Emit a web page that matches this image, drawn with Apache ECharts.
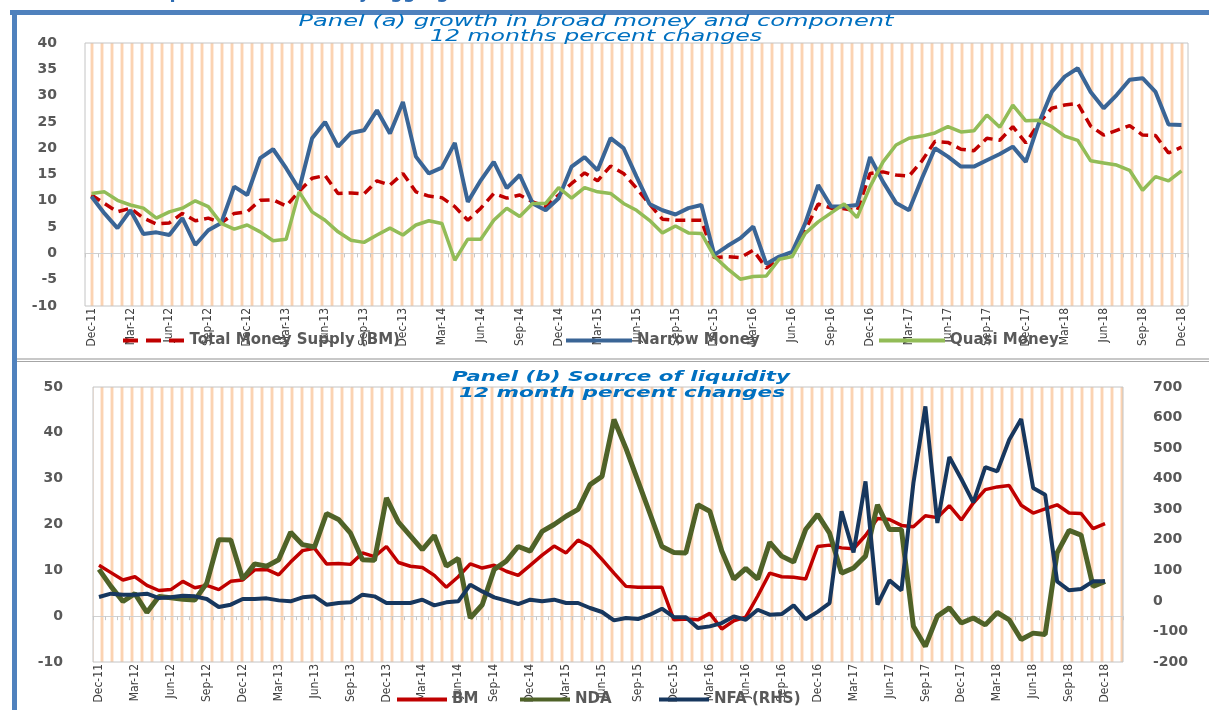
<!DOCTYPE html>
<html><head><meta charset="utf-8">
<script src="https://cdn.jsdelivr.net/npm/echarts/dist/echarts.min.js"></script>
<style>html,body{margin:0;padding:0;background:#fff}#c{width:1209px;height:710px}</style>
</head><body><div id="c"></div>
<script>
const months = ['Dec-11',
'Jan-12','Feb-12','Mar-12','Apr-12','May-12','Jun-12','Jul-12','Aug-12','Sep-12','Oct-12','Nov-12','Dec-12',
'Jan-13','Feb-13','Mar-13','Apr-13','May-13','Jun-13','Jul-13','Aug-13','Sep-13','Oct-13','Nov-13','Dec-13',
'Jan-14','Feb-14','Mar-14','Apr-14','May-14','Jun-14','Jul-14','Aug-14','Sep-14','Oct-14','Nov-14','Dec-14',
'Jan-15','Feb-15','Mar-15','Apr-15','May-15','Jun-15','Jul-15','Aug-15','Sep-15','Oct-15','Nov-15','Dec-15',
'Jan-16','Feb-16','Mar-16','Apr-16','May-16','Jun-16','Jul-16','Aug-16','Sep-16','Oct-16','Nov-16','Dec-16',
'Jan-17','Feb-17','Mar-17','Apr-17','May-17','Jun-17','Jul-17','Aug-17','Sep-17','Oct-17','Nov-17','Dec-17',
'Jan-18','Feb-18','Mar-18','Apr-18','May-18','Jun-18','Jul-18','Aug-18','Sep-18','Oct-18','Nov-18','Dec-18'];
// panel (b) has one spare empty slot after Dec-18
const monthsB = months.concat(['']);

// Panel (a): 12-month % changes
const broadMoney = [11.1,9.5,7.9,8.6,6.7,5.6,5.8,7.6,6.2,6.7,5.8,7.6,7.9,10.1,10.2,9.0,11.8,14.3,14.8,11.4,11.5,11.3,13.8,13.0,15.2,11.7,10.9,10.6,8.9,6.3,8.6,11.4,10.5,11.1,9.8,8.9,11.1,13.3,15.3,13.8,16.6,15.2,12.4,9.4,6.5,6.3,6.3,6.3,-0.8,-0.6,-0.8,0.6,-2.8,-1.0,-0.2,4.4,9.4,8.6,8.5,8.1,15.2,15.5,14.9,14.7,17.6,21.3,21.1,19.8,19.5,21.9,21.5,24.1,21.0,24.7,27.6,28.2,28.5,24.2,22.5,23.4,24.3,22.5,22.4,19.1,20.2];
const narrowMoney = [10.8,7.6,4.8,8.2,3.7,4.0,3.5,6.7,1.6,4.4,5.8,12.7,11.1,18.1,19.8,16.2,12.2,21.9,25.0,20.3,22.9,23.4,27.2,22.8,28.8,18.4,15.2,16.3,21.0,9.8,13.9,17.4,12.4,14.9,9.5,8.2,10.5,16.5,18.3,15.8,21.9,20.0,14.6,9.4,8.2,7.4,8.6,9.2,-0.3,1.4,2.9,5.1,-2.0,-0.6,0.3,5.7,13.0,8.9,8.9,9.2,18.3,13.6,9.6,8.2,14.3,20.0,18.4,16.5,16.5,17.7,18.9,20.3,17.4,24.7,30.7,33.6,35.2,30.7,27.6,30.1,33.0,33.3,30.7,24.5,24.4];
const quasiMoney = [11.4,11.7,10.1,9.2,8.6,6.7,7.9,8.6,10.0,8.9,5.7,4.6,5.4,4.1,2.4,2.7,11.7,7.9,6.3,4.1,2.5,2.1,3.5,4.8,3.5,5.4,6.2,5.7,-1.3,2.7,2.7,6.3,8.6,7.0,9.5,9.5,12.5,10.5,12.5,11.7,11.4,9.5,8.2,6.3,3.9,5.2,3.9,3.8,-0.6,-2.9,-4.9,-4.4,-4.3,-1.1,-0.6,3.8,6.0,7.7,9.4,6.8,12.7,17.4,20.6,21.9,22.3,22.9,24.1,23.1,23.3,26.3,24.0,28.2,25.2,25.3,24.1,22.3,21.5,17.6,17.2,16.8,15.8,12.0,14.6,13.8,15.7];

// Panel (b): sources of liquidity
const bm = broadMoney;
const nda = [10.2,6.5,3.2,4.9,0.8,4.3,4.0,3.7,3.5,7.2,16.7,16.6,8.1,11.4,10.9,12.3,18.3,15.6,15.1,22.4,21.1,18.1,12.3,12.2,25.8,20.5,17.5,14.5,17.6,10.9,12.6,-0.4,2.5,10.2,12.0,15.2,14.2,18.5,20.0,21.8,23.3,28.7,30.5,42.9,36.6,29.5,22.4,15.2,13.9,13.8,24.3,22.9,14.2,8.1,10.4,8.1,16.1,13.1,11.8,18.9,22.2,18.1,9.4,10.5,13.1,24.3,18.9,18.9,-2.2,-6.6,0.0,1.8,-1.5,-0.4,-1.9,0.8,-0.8,-5.1,-3.7,-4.0,13.8,18.7,17.7,6.5,7.6];
const nfa = [12.7,23.6,20.3,20.3,23.6,9.4,11.6,17.0,14.8,6.1,-20.1,-12.4,6.1,6.1,8.3,1.7,-1.5,11.6,14.8,-12.4,-7.0,-4.8,20.3,14.8,-7.0,-7.0,-7.0,3.9,-14.6,-4.8,-1.5,53.0,31.1,11.6,0.7,-10.3,3.9,-1.5,3.9,-7.0,-7.0,-23.3,-36.4,-63.7,-56.1,-59.3,-45.1,-25.5,-52.9,-53.9,-88.8,-83.4,-72.6,-50.7,-61.7,-29.0,-45.1,-43.0,-14.6,-60.0,-36.0,-7.0,293.1,158.9,391.2,-12.4,67.2,34.5,385.7,636.6,254.9,470.9,398.9,322.5,438.1,424.0,527.6,595.3,369.5,347.6,63.9,34.5,38.8,63.9,63.9];

const titleA = ['Panel (a) growth in broad money and component','12 months percent changes'];
const titleB = ['Panel (b) Source of liquidity','12 month percent changes'];
const header = 'Chart 12: Developments in Monetary Aggregates';
const legendA = ['Total Money Supply (BM)','Narrow Money','Quasi Money'];
const legendB = ['BM','NDA','NFA (RHS)'];

// ---------- layout / style ----------
const GA = {left:85, top:43, width:1103, height:263};
const GB = {left:93, top:387, width:1030, height:275};
const C = {red:'#C00000', blue:'#3A6596', green:'#92BC57', olive:'#4F6228', navy:'#17375E', grey:'#595959', title:'#0070C0'};

const mctx = document.createElement('canvas').getContext('2d');
function sx(font, text, w){ mctx.font = font; return w / mctx.measureText(text).width; }

const pat = document.createElement('canvas'); pat.width = 10; pat.height = 4;
const pg = pat.getContext('2d');
pg.fillStyle = '#FEEBDD'; pg.fillRect(0,0,1,4);
pg.fillStyle = '#FBD3B2'; pg.fillRect(1,0,2,4);
pg.fillStyle = '#FEEBDD'; pg.fillRect(3,0,1,4);
const stripe = {image: pat, repeat: 'repeat'};

function ttext(text, font, fill, cx, cy, w, align){
  return {type:'text', x:cx, y:cy, z:20, scaleX: sx(font, text, w),
    style:{text:text, font:font, fill:fill, textAlign: align||'center', textVerticalAlign:'middle'}};
}
const fA = 'italic 15px "DejaVu Sans"';
const fB = 'italic bold 14px "DejaVu Sans"';
const fH = 'bold 19px "DejaVu Sans"';

function yLab(m){ return {margin:m, color:C.grey, fontWeight:'bold', fontFamily:'DejaVu Sans', fontSize:14}; }
function xLab(){
  return {show:true, interval:2, rotate:90, color:'#404040',
    fontFamily:'"Liberation Sans Narrow","DejaVu Sans Condensed",sans-serif', fontSize:12, margin:2};
}

const chart = echarts.init(document.getElementById('c'), null, {renderer:'canvas'});
const legText = {color:C.grey, fontWeight:'bold', fontSize:15, fontFamily:'DejaVu Sans'};
function leg(name, left, top, w, icon){
  return {data:[name], left:left, top:top, padding:0, itemWidth:w, itemHeight:4, icon:icon||'rect', selectedMode:false, textStyle:legText, itemGap:0};
}
chart.setOption({
  animation:false,
  backgroundColor:'#fff',
  grid:[
    Object.assign({show:false, outerBoundsMode:'none', containLabel:false}, GA),
    Object.assign({show:false, outerBoundsMode:'none', containLabel:false}, GB)
  ],
  xAxis:[
    {type:'category', gridIndex:0, data:months, boundaryGap:true, z:1,
     axisLine:{onZero:true, lineStyle:{color:'#D0D0D0', width:1}},
     axisTick:{show:true, interval:0, length:4, lineStyle:{color:'#C8C8C8'}},
     axisLabel:xLab(), splitLine:{show:false}},
    {type:'category', gridIndex:1, data:monthsB, boundaryGap:true, z:1,
     axisLine:{onZero:true, onZeroAxisIndex:1, lineStyle:{color:'#D0D0D0', width:1}},
     axisTick:{show:true, interval:0, length:4, lineStyle:{color:'#C8C8C8'}},
     axisLabel:xLab(), splitLine:{show:false}}
  ],
  yAxis:[
    {type:'value', gridIndex:0, min:-10, max:40, interval:5, axisLine:{show:false}, axisTick:{show:false}, splitLine:{show:false},
     axisLabel:yLab(28)},
    {type:'value', gridIndex:1, min:-10, max:50, interval:10, axisLine:{show:false}, axisTick:{show:false}, splitLine:{show:false},
     axisLabel:yLab(30)},
    {type:'value', gridIndex:1, position:'right', min:-200, max:700, interval:100, axisLine:{show:false}, axisTick:{show:false}, splitLine:{show:false},
     axisLabel:yLab(30)}
  ],
  legend:[
    leg(legendA[0], 123, 333, 62, 'path://M0,0H15V4H0Z M23,0H38V4H23Z M46,0H61V4H46Z'),
    leg(legendA[1], 566, 333, 66),
    leg(legendA[2], 879, 333, 66),
    leg(legendB[0], 397, 692, 50),
    leg(legendB[1], 520, 692, 50),
    leg(legendB[2], 659, 692, 50)
  ],
  graphic:{elements:[
    {type:'rect', z:0, shape:{x:GA.left, y:GA.top, width:GA.width, height:GA.height}, style:{fill:stripe, stroke:'#C4C4C4', lineWidth:1}},
    {type:'rect', z:0, shape:{x:GB.left, y:GB.top, width:GB.width, height:GB.height}, style:{fill:stripe, stroke:'#C4C4C4', lineWidth:1}},
    {type:'rect', z:0, shape:{x:10, y:10, width:1199, height:5}, style:{fill:'#4F81BD'}},
    {type:'rect', z:0, shape:{x:12, y:10, width:5, height:700}, style:{fill:'#4F81BD'}},
    {type:'rect', z:0, shape:{x:17, y:358, width:1192, height:2}, style:{fill:'#C8C8C8'}},
    {type:'rect', z:0, shape:{x:17, y:361, width:1192, height:1}, style:{fill:'#A6A6A6'}},
    {type:'text', x:2, y:3, z:20, scaleX: sx(fH, header, 490),
      style:{text:header, font:fH, fill:'#2F6DB3', textAlign:'left', textVerticalAlign:'bottom'}},
    ttext(titleA[0], fA, C.title, 596, 22, 595),
    ttext(titleA[1], fA, C.title, 596, 37, 332),
    ttext(titleB[0], fB, C.title, 621, 377, 338),
    ttext(titleB[1], fB, C.title, 622, 393, 326)
  ]},
  series:[
    {name:legendA[0], type:'line', xAxisIndex:0, yAxisIndex:0, data:broadMoney, symbol:'none', z:5,
     lineStyle:{color:C.red, width:3.5, type:[10,6]}, itemStyle:{color:C.red}},
    {name:legendA[1], type:'line', xAxisIndex:0, yAxisIndex:0, data:narrowMoney, symbol:'none', z:5,
     lineStyle:{color:C.blue, width:4}, itemStyle:{color:C.blue}},
    {name:legendA[2], type:'line', xAxisIndex:0, yAxisIndex:0, data:quasiMoney, symbol:'none', z:5,
     lineStyle:{color:C.green, width:3.5}, itemStyle:{color:C.green}},
    {name:legendB[0], type:'line', xAxisIndex:1, yAxisIndex:1, data:bm, symbol:'none', z:5,
     lineStyle:{color:C.red, width:3.5}, itemStyle:{color:C.red}},
    {name:legendB[1], type:'line', xAxisIndex:1, yAxisIndex:1, data:nda, symbol:'none', z:5,
     lineStyle:{color:C.olive, width:5}, itemStyle:{color:C.olive}},
    {name:legendB[2], type:'line', xAxisIndex:1, yAxisIndex:2, data:nfa, symbol:'none', z:5,
     lineStyle:{color:C.navy, width:4}, itemStyle:{color:C.navy}}
  ]
});
</script>
</body></html>
